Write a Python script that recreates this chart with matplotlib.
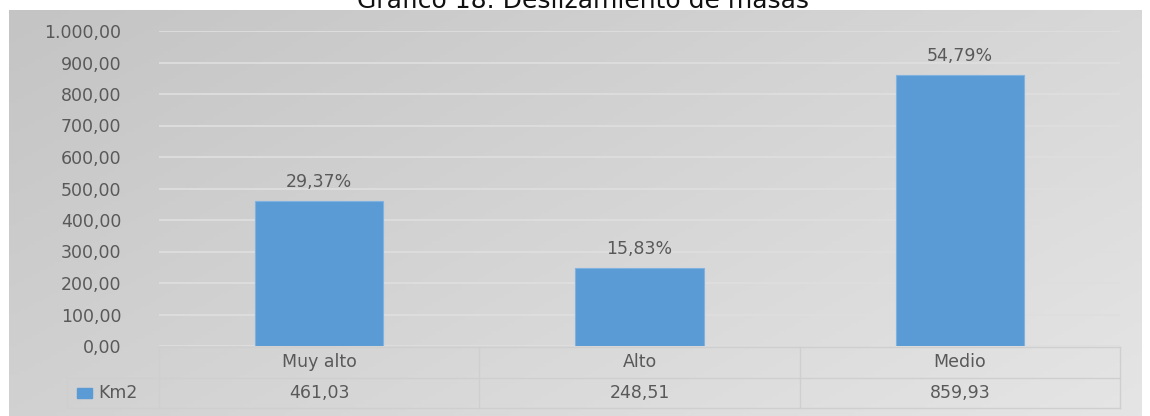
import numpy as np
import matplotlib
matplotlib.use("Agg")
import matplotlib.pyplot as plt
from matplotlib.transforms import blended_transform_factory

categories = ["Muy alto", "Alto", "Medio"]
values = [461.03, 248.51, 859.93]
pct_labels = ["29,37%", "15,83%", "54,79%"]
value_labels = ["461,03", "248,51", "859,93"]
series_name = "Km2"
yticks = [0, 100, 200, 300, 400, 500, 600, 700, 800, 900, 1000]
title = "Gráfico 18. Deslizamiento de masas"

W, H = 1150, 416
fig = plt.figure(figsize=(W / 100, H / 100), dpi=100)
fig.patch.set_facecolor("white")

def fx(px):
    return px / W

def fy(py):
    return 1 - py / H

# gradient background
bg = fig.add_axes([fx(9), 0, fx(1142) - fx(9), fy(10)])
gx, gy = np.meshgrid(np.linspace(0, 1, 300), np.linspace(0, 1, 100))
g = 0.6 * gx + 0.4 * gy
c0, c1 = 196 / 255, 229 / 255
img = c0 + (c1 - c0) * g
bg.imshow(np.dstack([img, img, img]), aspect="auto", extent=[0, 1, 0, 1], origin="upper")
bg.set_axis_off()

# title (partially clipped at top, as in the reference)
fig.text(fx(583), fy(8), title, ha="center", va="baseline", fontsize=18,
         family="DejaVu Sans", color="#111111")

ax_l, ax_r, ax_top, ax_bot = 159, 1120, 31, 346
ax = fig.add_axes([fx(ax_l), fy(ax_bot), fx(ax_r) - fx(ax_l), fy(ax_top) - fy(ax_bot)])
ax.set_facecolor("none")
x = np.arange(len(categories))
ax.set_xlim(-0.5, len(categories) - 0.5)
ax.set_ylim(0, 1000)
ax.set_yticks(yticks)
ax.set_yticklabels([f"{v:,.2f}".replace(",", "X").replace(".", ",").replace("X", ".") for v in yticks])
ax.tick_params(axis="y", length=0, pad=27, labelsize=12.5, labelcolor="#595959")
ax.tick_params(axis="x", length=0, labelbottom=False)
for s in ax.spines.values():
    s.set_visible(False)
ax.yaxis.grid(True, color="#dedede", linewidth=1.3)
ax.set_axisbelow(True)
for lbl in ax.get_yticklabels():
    lbl.set_family("DejaVu Sans")

bars = ax.bar(x, values, width=0.4, color="#5b9bd5", edgecolor="#7fb2e0", linewidth=0.8, zorder=3)
for b, lab in zip(bars, pct_labels):
    ax.annotate(lab, (b.get_x() + b.get_width() / 2, b.get_height()), xytext=(0, 10),
                textcoords="offset points", ha="center", va="baseline",
                fontsize=12.5, color="#595959", family="DejaVu Sans")

# data table below axes
tr = blended_transform_factory(ax.transData, ax.transAxes)
axh = ax_bot - ax_top
def ay(py):
    return (ax_bot - py) / axh

line_c = "#cfcfcf"
y_top, y_mid, y_bot = ay(347), ay(378), ay(408)
leg_left = (67 - ax_l) / (ax_r - ax_l)
kw = dict(transform=ax.transAxes, color=line_c, linewidth=1, clip_on=False)
ax.plot([0, 1], [y_top, y_top], **kw)
ax.plot([leg_left, 1], [y_mid, y_mid], **kw)
ax.plot([leg_left, 1], [y_bot, y_bot], **kw)
ax.plot([leg_left, leg_left], [y_mid, y_bot], **kw)
for i in range(len(categories) + 1):
    xf = i / len(categories)
    ax.plot([xf, xf], [y_top, y_bot], **kw)

for xi, cat, vl in zip(x, categories, value_labels):
    ax.text(xi, ay(362), cat, transform=tr, ha="center", va="center",
            fontsize=12.5, color="#595959", family="DejaVu Sans")
    ax.text(xi, ay(393), vl, transform=tr, ha="center", va="center",
            fontsize=12.5, color="#595959", family="DejaVu Sans")

# legend key in table
ax.add_patch(plt.Rectangle(((77 - ax_l) / (ax_r - ax_l), ay(398)), 15 / (ax_r - ax_l), 10 / axh,
                           transform=ax.transAxes, color="#5b9bd5", clip_on=False))
ax.text((98 - ax_l) / (ax_r - ax_l), ay(393), series_name, transform=ax.transAxes,
        ha="left", va="center", fontsize=12.5, color="#595959", family="DejaVu Sans")

fig.savefig("out.png", dpi=100)
